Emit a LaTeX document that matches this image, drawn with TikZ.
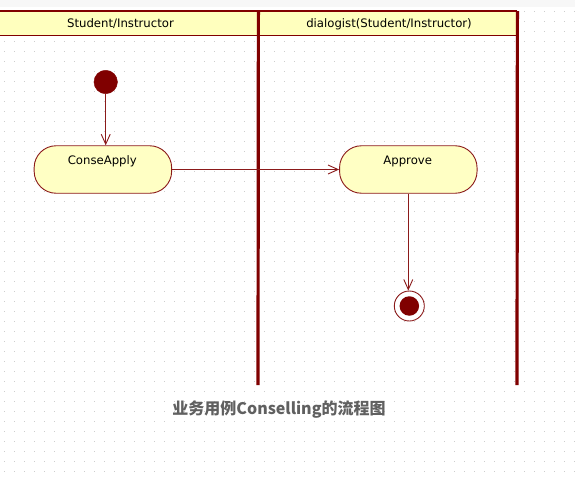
\documentclass[tikz,border=0pt]{standalone}
\usepackage{fontspec}
\setmainfont{DejaVu Sans}
\newfontfamily\cjk{Noto Sans CJK SC}
\usetikzlibrary{arrows.meta}
\definecolor{maroon}{HTML}{800000}
\definecolor{edgered}{HTML}{8B1A1A}
\definecolor{nodeyellow}{HTML}{FFFFC4}
\definecolor{hdryellow}{HTML}{FFFFBE}
\definecolor{dotgray}{HTML}{CDCDCD}
\definecolor{captiongray}{HTML}{606060}
\tikzset{
  hdrtext/.style={font=\fontsize{11.7}{14}\selectfont, text=black, inner sep=0pt},
  lanehdr/.style={fill=hdryellow, draw=none, inner sep=0pt, anchor=north west},
  laneline/.style={draw=maroon, line width=3.2pt},
  hdrline/.style={draw=maroon, line width=1.6pt},
  activity/.style={draw=edgered, fill=nodeyellow, line width=0.9pt, rounded corners=22pt,
     minimum width=137.5pt, minimum height=47.5pt, inner sep=0pt},
  acttext/.style={font=\fontsize{11.7}{14}\selectfont, inner sep=0pt},
  startnode/.style={circle, fill=maroon, draw=maroon, minimum size=23.5pt, inner sep=0pt},
  endouter/.style={circle, fill=white, draw=edgered, line width=0.9pt, minimum size=30pt, inner sep=0pt},
  endinner/.style={circle, fill=maroon, draw=none, minimum size=19.5pt, inner sep=0pt},
  flow/.style={draw=edgered, line width=0.9pt, -{Straight Barb[length=10pt,width=9pt]}},
}
\begin{document}
\begin{tikzpicture}[x=1pt,y=-1pt]
\useasboundingbox (0,0) rectangle (575,479);
\fill[white] (0,0) rectangle (575,479);
\fill[gray!6] (0,0) rectangle (575,7);
% dotted grid background
\foreach \x in {4,14,...,574}{
  \foreach \y in {11,21,...,471}{
    \fill[dotgray] (\x-0.5,\y-0.5) rectangle ++(1,1);
  }
}
% swimlane headers
\node[lanehdr, minimum width=258pt, minimum height=24pt] (lane1) at (0,11) {};
\node[lanehdr, minimum width=259pt, minimum height=24pt] (lane2) at (258,11) {};
\node[hdrtext] (lane1text) at (120.5,24) {Student/Instructor};
\node[hdrtext] (lane2text) at (389,24) {dialogist(Student/Instructor)};
\draw[hdrline] (lane1.north west) -- (lane2.north east);
\draw[hdrline] (lane1.south west) -- (lane2.south east);
\coordinate (div1bot) at (258,385);
\coordinate (div2bot) at (517,385);
\draw[laneline] (lane1.north east) -- (div1bot);
\draw[laneline] (lane2.north east) -- (div2bot);
% activity nodes
\node[startnode] (init) at (105.7,82) {};
\node[activity] (conse) at (102.9,169.5) {};
\node[acttext] (conselabel) at (102.3,161.5) {ConseApply};
\node[activity] (approve) at (408.3,169.5) {};
\node[acttext] (approvelabel) at (407.7,161.5) {Approve};
\node[endouter] (final) at (409.3,306) {};
\node[endinner] (finaldot) at (final.center) {};
% connectors
\draw[flow] (init.south) -- (init.south |- conse.north);
\draw[flow] (conse.east) -- (approve.west);
\draw[flow] (approve.south) -- (approve.south |- final.north);
% caption
\node[font=\cjk\bfseries\fontsize{16}{20}\selectfont, text=captiongray, inner sep=0pt] (caption) at (279,410) {业务用例Conselling的流程图};
\end{tikzpicture}
\end{document}
